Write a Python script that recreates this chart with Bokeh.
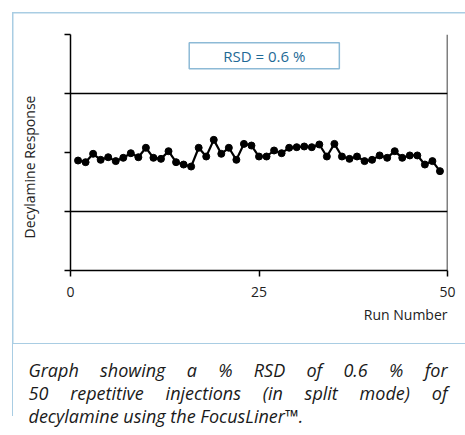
from bokeh.plotting import figure
from bokeh.models import (FixedTicker, Label, Span, Div, Range1d, Title)
from bokeh.layouts import column
from bokeh.embed import file_html
from bokeh.resources import INLINE

# ---- data ----
runs = list(range(1, 50))
response = [99.32, 99.18, 99.89, 99.38, 99.60, 99.27, 99.55, 99.94, 99.60, 100.40,
            99.55, 99.46, 100.11, 99.18, 98.98, 98.81, 100.40, 99.66, 101.07, 99.89,
            100.40, 99.38, 100.73, 100.59, 99.66, 99.66, 100.17, 99.94, 100.40, 100.45,
            100.51, 100.45, 100.68, 99.66, 100.73, 99.66, 99.46, 99.66, 99.27, 99.38,
            99.75, 99.55, 100.11, 99.55, 99.75, 99.75, 98.98, 99.27, 98.42]
x_ticks = [0, 25, 50]
y_ticks = [90, 95, 100, 105, 110]
y_lines = [95, 105]
rsd_text = "RSD = 0.6 %"
x_label = "Run Number"
y_label = "Decylamine Response"
caption_lines = ["Graph showing a % RSD of 0.6 % for",
                 "50 repetitive injections (in split mode) of",
                 "decylamine using the FocusLiner\u2122."]

FONT = "Open Sans"
FRAME_BLUE = "#a9cde3"

# blue frame (top edge, left edge, separator) painted as CSS background
grad = f"linear-gradient({FRAME_BLUE}, {FRAME_BLUE})"
frame_css = {
    "background-color": "white",
    "background-image": f"{grad}, {grad}, {grad}",
    "background-size": "453px 1.5px, 1.5px 340px, 453px 1.5px",
    "background-position": "12px 12px, 12px 12px, 12px 342.5px",
    "background-repeat": "no-repeat",
}

p = figure(width=465, height=344, output_backend="svg", toolbar_location=None,
           x_range=Range1d(0, 50), y_range=Range1d(90, 110),
           frame_width=377, frame_height=236,
           min_border_left=70, min_border_right=18, min_border_top=34,
           min_border_bottom=74, styles=frame_css)
p.outline_line_color = None
p.background_fill_color = "white"
p.border_fill_color = None

# axes
p.xaxis.ticker = FixedTicker(ticks=x_ticks)
p.yaxis.ticker = FixedTicker(ticks=y_ticks)
for ax in (p.xaxis[0], p.yaxis[0]):
    ax.axis_line_color = "black"
    ax.axis_line_width = 1.5
    ax.major_tick_line_color = "black"
    ax.major_tick_line_width = 1.5
    ax.major_tick_out = 6
    ax.major_tick_in = 0
    ax.minor_tick_line_color = None
    ax.axis_label_text_font = FONT
    ax.axis_label_text_font_style = "normal"
    ax.axis_label_text_color = "#222222"
    ax.axis_label_text_font_size = "14px"
    ax.major_label_text_font = FONT
    ax.major_label_text_color = "#222222"
    ax.major_label_text_font_size = "14px"

p.xaxis.major_label_standoff = 10

p.yaxis.major_label_overrides = {t: "" for t in y_ticks}
# trailing no-break spaces shift the visible label slightly down, as in the reference
p.yaxis.axis_label = y_label + "\u00a0" * 8
p.yaxis.axis_label_standoff = 26

p.xgrid.grid_line_color = None
p.ygrid.ticker = FixedTicker(ticks=y_lines)
p.ygrid.grid_line_color = "black"
p.ygrid.grid_line_width = 1.3

# right border line
p.add_layout(Span(location=x_ticks[-1], dimension="height", line_color="black",
                  line_width=1.5))

# data
p.line(runs, response, line_color="black", line_width=2.2)
p.scatter(runs, response, size=7, fill_color="black", line_color="black")

# x axis title, right aligned under the end of the axis
p.add_layout(Title(text=x_label, align="right", text_font=FONT,
                   text_font_size="14px", text_font_style="normal",
                   text_color="#222222", standoff=7), "below")

# RSD box
p.add_layout(Label(x=25.7, y=108.2, text=rsd_text, text_align="center",
                   text_baseline="middle", text_font=FONT, text_font_size="15px",
                   text_color="#1f6a96", border_line_color="#8dbad6",
                   border_line_width=1.5, background_fill_color="white",
                   padding=(34, 3)))

line_html = []
for i, t in enumerate(caption_lines):
    last = "left" if i == len(caption_lines) - 1 else "justify"
    line_html.append(
        f'<div style="width:419px;text-align:justify;text-align-last:{last};">{t}</div>')
cap_html = (
    f'<div style="margin-left:12px;border-left:1.5px solid {FRAME_BLUE};'
    f'padding:15px 0 0 15.5px;height:72px;font-family:\'{FONT}\';'
    f'font-style:italic;font-size:18px;line-height:23px;color:#1a1a1a;">'
    + "".join(line_html) + '</div>')
cap = Div(text=cap_html, width=457, height=89, margin=0,
          styles={"overflow": "visible"})

layout = column(p, cap, spacing=0)
open("out.html", "w").write(file_html(layout, INLINE))
